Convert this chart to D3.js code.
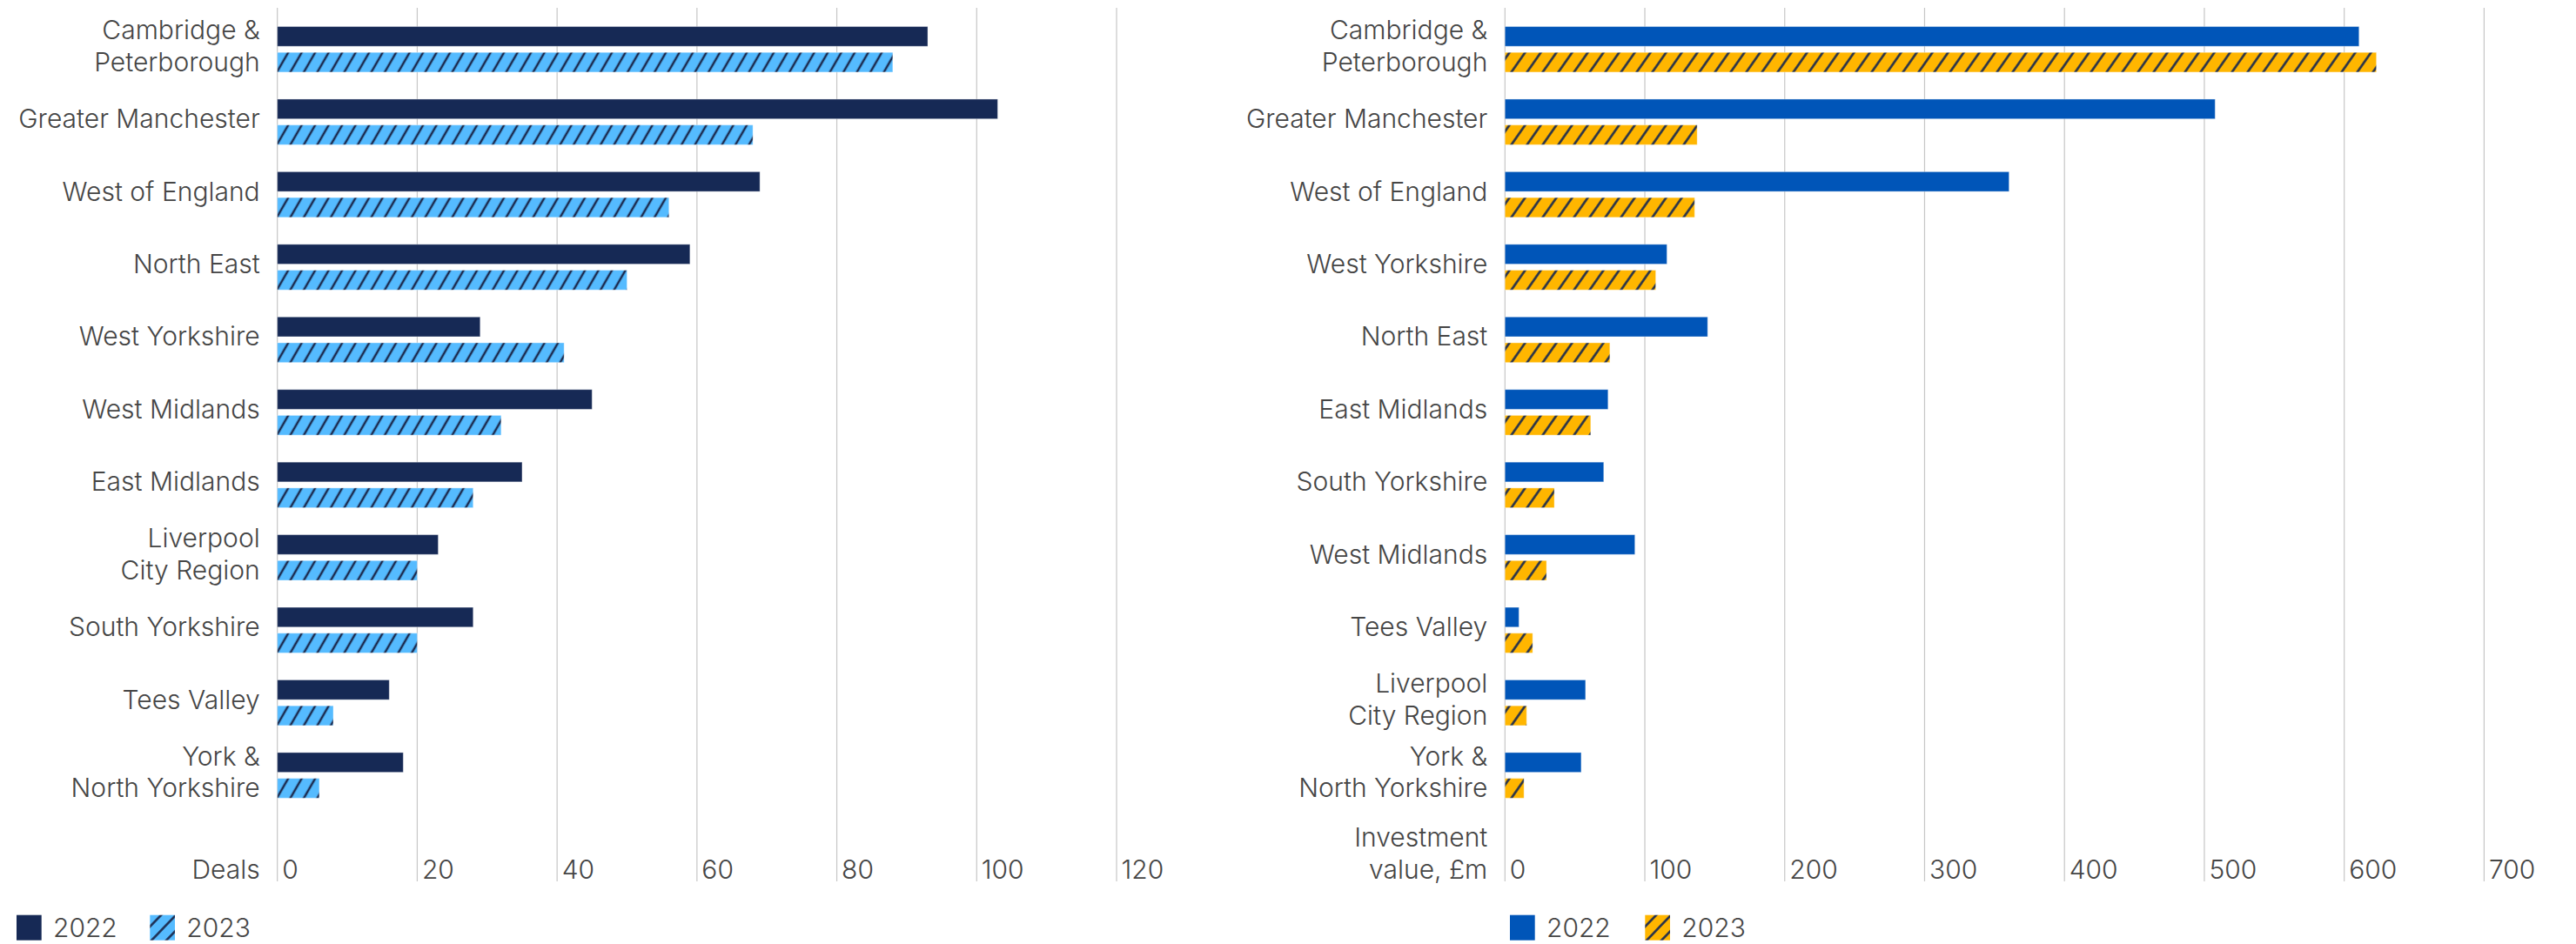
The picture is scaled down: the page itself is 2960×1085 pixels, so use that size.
<!DOCTYPE html>
<html>
<head>
<meta charset="utf-8">
<script src="https://cdn.jsdelivr.net/npm/d3@7"></script>
<style>
  html, body { margin: 0; padding: 0; background: #fff; }
  svg { display: block; }
  text { font-family: Inter, Lato, "Open Sans", sans-serif; font-weight: 300; fill: #454545; }
</style>
</head>
<body>
<svg id="chart" width="2960" height="1085"></svg>
<script>
// ---- Data -------------------------------------------------------------
const years = ["2022", "2023"];

// Number of deals by combined authority area
const dealRegions = [
  "Cambridge &\nPeterborough", "Greater Manchester", "West of England", "North East",
  "West Yorkshire", "West Midlands", "East Midlands", "Liverpool\nCity Region",
  "South Yorkshire", "Tees Valley", "York &\nNorth Yorkshire"
];
const deals2022 = [93, 103, 69, 59, 29, 45, 35, 23, 28, 16, 18];
const deals2023 = [88, 68, 56, 50, 41, 32, 28, 20, 20, 8, 6];
const dealTicks = [0, 20, 40, 60, 80, 100, 120];

// Investment value (£m) by combined authority area
const investRegions = [
  "Cambridge &\nPeterborough", "Greater Manchester", "West of England", "West Yorkshire",
  "North East", "East Midlands", "South Yorkshire", "West Midlands", "Tees Valley",
  "Liverpool\nCity Region", "York &\nNorth Yorkshire"
];
const invest2022 = [610.6, 507.7, 360.4, 115.8, 144.9, 73.7, 70.6, 92.9, 10, 57.6, 54.5];
const invest2023 = [623.0, 137.4, 135.6, 107.8, 75.0, 61.3, 35.3, 29.7, 19.8, 15.5, 13.6];
const investTicks = [0, 100, 200, 300, 400, 500, 600, 700];

// ---- Drawing ----------------------------------------------------------
const svg = d3.select("#chart");
const defs = svg.append("defs");
const HATCH_INK = "#1b2a4e";

// Diagonal hatch: vertical stripes rotated clockwise, so they lean like "/".
// `gap` is the horizontal distance between neighbouring stripes.
function hatch(id, bg, gap, tilt, sw) {
  const s = gap * Math.cos(tilt * Math.PI / 180);
  const p = defs.append("pattern")
    .attr("id", id).attr("patternUnits", "userSpaceOnUse")
    .attr("width", s).attr("height", s)
    .attr("patternTransform", `rotate(${tilt})`);
  p.append("rect").attr("width", s).attr("height", s).attr("fill", bg);
  p.append("line")
    .attr("x1", s / 2).attr("x2", s / 2).attr("y1", -1).attr("y2", s + 1)
    .attr("stroke", HATCH_INK).attr("stroke-width", sw);
}
hatch("hatchBlue", "#55bbff", 15.5, 30, 2.5);
hatch("hatchGold", "#ffb600", 18, 35, 2.5);
hatch("hatchBlueKey", "#55bbff", 17, 44, 2.5);
hatch("hatchGoldKey", "#ffb600", 17, 44, 2.5);

const GRID_TOP = 9, GRID_BOTTOM = 1013, TICK_BASELINE = 1010;
const FONT = 30, LINE_GAP = 36.7;

function panel(cfg) {
  const g = svg.append("g");
  const x = d3.scaleLinear().domain(cfg.domain).range(cfg.xRange);
  // last, empty band holds the axis labels
  const y = d3.scaleBand().domain([...cfg.regions, "__axis"]).range([15, 1016.3]);
  const yInner = d3.scaleBand().domain(years).range([-26.2, 26.2]).paddingInner(0.236);

  // gridlines
  g.selectAll("line.grid").data(cfg.ticks).join("line")
    .attr("class", "grid")
    .attr("x1", d => x(d)).attr("x2", d => x(d))
    .attr("y1", GRID_TOP).attr("y2", GRID_BOTTOM)
    .attr("stroke", "#c6c6c6").attr("stroke-width", 1.2);

  // tick labels sit just right of each gridline, at the foot of the plot
  g.selectAll("text.tick").data(cfg.ticks).join("text")
    .attr("class", "tick")
    .attr("x", d => x(d) + 5.5).attr("y", TICK_BASELINE)
    .attr("font-size", FONT)
    .text(d => d3.format("d")(d));

  // bars
  const rows = cfg.regions.map((r, i) => ({ region: r, v: [cfg.v2022[i], cfg.v2023[i]] }));
  const row = g.selectAll("g.row").data(rows).join("g")
    .attr("class", "row")
    .attr("transform", d => `translate(0,${y(d.region) + y.bandwidth() / 2})`);

  row.selectAll("rect").data(d => years.map((yr, k) => ({ yr, value: d.v[k] }))).join("rect")
    .attr("x", x(0))
    .attr("y", d => yInner(d.yr))
    .attr("width", d => x(d.value) - x(0))
    .attr("height", yInner.bandwidth())
    .attr("fill", d => d.yr === "2022" ? cfg.solid : `url(#${cfg.hatch})`)
    .attr("stroke", "#ffffff").attr("stroke-opacity", 0.35).attr("stroke-width", 1);

  // category labels, right aligned against the axis
  row.append("text")
    .attr("text-anchor", "end")
    .attr("font-size", FONT)
    .each(function (d) {
      const lines = d.region.split("\n");
      const first = 7 - (lines.length - 1) * LINE_GAP / 2;
      d3.select(this).selectAll("tspan").data(lines).join("tspan")
        .attr("x", x(0) - 20)
        .attr("y", (l, j) => first + j * LINE_GAP)
        .text(l => l);
    });

  // axis title in the bottom row
  const title = cfg.title;
  g.append("text")
    .attr("text-anchor", "end")
    .attr("font-size", FONT)
    .selectAll("tspan").data(title).join("tspan")
    .attr("x", x(0) - 20)
    .attr("y", (l, j) => TICK_BASELINE - (title.length - 1 - j) * LINE_GAP)
    .text(l => l);

  // legend
  const lg = svg.append("g").attr("transform", `translate(${cfg.legendX},0)`);
  const keys = [
    { label: "2022", fill: cfg.solid, dx: 0 },
    { label: "2023", fill: `url(#${cfg.keyHatch})`, dx: cfg.legendStep }
  ];
  const item = lg.selectAll("g").data(keys).join("g")
    .attr("transform", d => `translate(${d.dx},0)`);
  item.append("rect")
    .attr("x", 0).attr("y", 1051.7).attr("width", 28.7).attr("height", 29)
    .attr("fill", d => d.fill);
  item.append("text")
    .attr("x", 42).attr("y", 1076.7).attr("font-size", FONT)
    .text(d => d.label);
}

panel({
  regions: dealRegions, v2022: deals2022, v2023: deals2023,
  domain: [0, 120], xRange: [318.7, 1283.0], ticks: dealTicks,
  solid: "#162955", hatch: "hatchBlue", keyHatch: "hatchBlueKey",
  title: ["Deals"], legendX: 19, legendStep: 153.3
});

panel({
  regions: investRegions, v2022: invest2022, v2023: invest2023,
  domain: [0, 700], xRange: [1729.3, 2854.4], ticks: investTicks,
  solid: "#0055b8", hatch: "hatchGold", keyHatch: "hatchGoldKey",
  title: ["Investment", "value, £m"], legendX: 1735, legendStep: 155.3
});
</script>
</body>
</html>
